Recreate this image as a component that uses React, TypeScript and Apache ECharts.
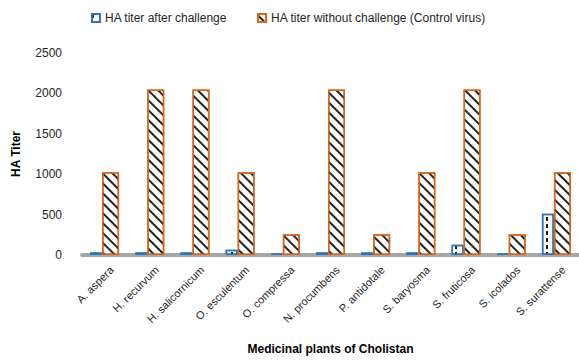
import React, { useEffect, useRef } from "react";
import * as echarts from "echarts";

const categories = [
  "A. aspera",
  "H. recurvum",
  "H. salicornicum",
  "O. esculentum",
  "O. compressa",
  "N. procumbens",
  "P. antidotale",
  "S. baryosma",
  "S. fruticosa",
  "S. icolados",
  "S. surattense",
];
const afterChallenge = [32, 32, 32, 64, 16, 32, 32, 32, 128, 16, 512];
const controlVirus = [1024, 2048, 2048, 1024, 256, 2048, 256, 1024, 2048, 256, 1024];
const seriesNames = ["HA titer after challenge", "HA titer without challenge (Control virus)"];
const yMin = 0;
const yMax = 2500;
const yInterval = 500;

export default function App() {
  const ref = useRef<HTMLDivElement>(null);
  useEffect(() => {
    if (!ref.current) return;
    const chart = echarts.init(ref.current, undefined, { renderer: "svg" });
    const font = "Liberation Sans";
    chart.setOption({
      animation: false,
      textStyle: { fontFamily: font },
      legend: {
        top: 7,
        left: 86,
        itemWidth: 8,
        itemHeight: 8,
        itemGap: 30,
        icon: "rect",
        textStyle: { fontSize: 12, color: "#262626", fontFamily: font },
        data: seriesNames,
      },
      grid: { left: 82, top: 53, width: 506, height: 202 },
      xAxis: {
        type: "category",
        data: categories,
        name: "Medicinal plants of Cholistan",
        nameLocation: "middle",
        nameGap: 88,
        nameTextStyle: { fontSize: 12, fontWeight: "bold", color: "#000", fontFamily: font },
        axisLine: { lineStyle: { color: "#a6a6a6", width: 4 } },
        axisTick: { show: false },
        axisLabel: {
          rotate: 45,
          interval: 0,
          fontSize: 11,
          color: "#262626",
          margin: 20,
          padding: [0, -10, 0, 0],
          fontFamily: font,
        },
      },
      yAxis: {
        type: "value",
        min: yMin,
        max: yMax,
        interval: yInterval,
        name: "HA Titer",
        nameLocation: "middle",
        nameGap: 60,
        nameTextStyle: { fontSize: 12, fontWeight: "bold", color: "#000", fontFamily: font },
        axisLine: { show: false },
        axisTick: { show: false },
        splitLine: { show: false },
        axisLabel: {
          fontSize: 12,
          color: "#262626",
          margin: 20,
          fontFamily: font,
          formatter: (v: number) => String(v),
        },
      },
      series: [
        {
          name: seriesNames[0],
          type: "bar",
          data: afterChallenge,
          barWidth: 12,
          barGap: "0%",
          itemStyle: {
            color: "#ffffff",
            borderColor: "#2e75b6",
            borderWidth: 1.5,
            decal: {
              symbol: "rect",
              symbolSize: 1,
              dashArrayX: [1.5, 5],
              dashArrayY: [4, 3],
              color: "#1a1a1a",
              backgroundColor: "#ffffff",
            },
          },
        },
        {
          name: seriesNames[1],
          type: "bar",
          data: controlVirus,
          barWidth: 17,
          barGap: "0%",
          itemStyle: {
            color: "#ffffff",
            borderColor: "#d2691e",
            borderWidth: 1.5,
            decal: {
              symbol: "rect",
              symbolSize: 1,
              dashArrayX: [1, 0],
              dashArrayY: [1.2, 4.5],
              rotation: Math.PI / 4,
              color: "#222222",
              backgroundColor: "#ffffff",
            },
          },
        },
      ],
    });
    return () => chart.dispose();
  }, []);
  return (
    <div
      ref={ref}
      style={{ position: "fixed", left: 0, top: 0, width: 579, height: 360, background: "#fff" }}
    />
  );
}
